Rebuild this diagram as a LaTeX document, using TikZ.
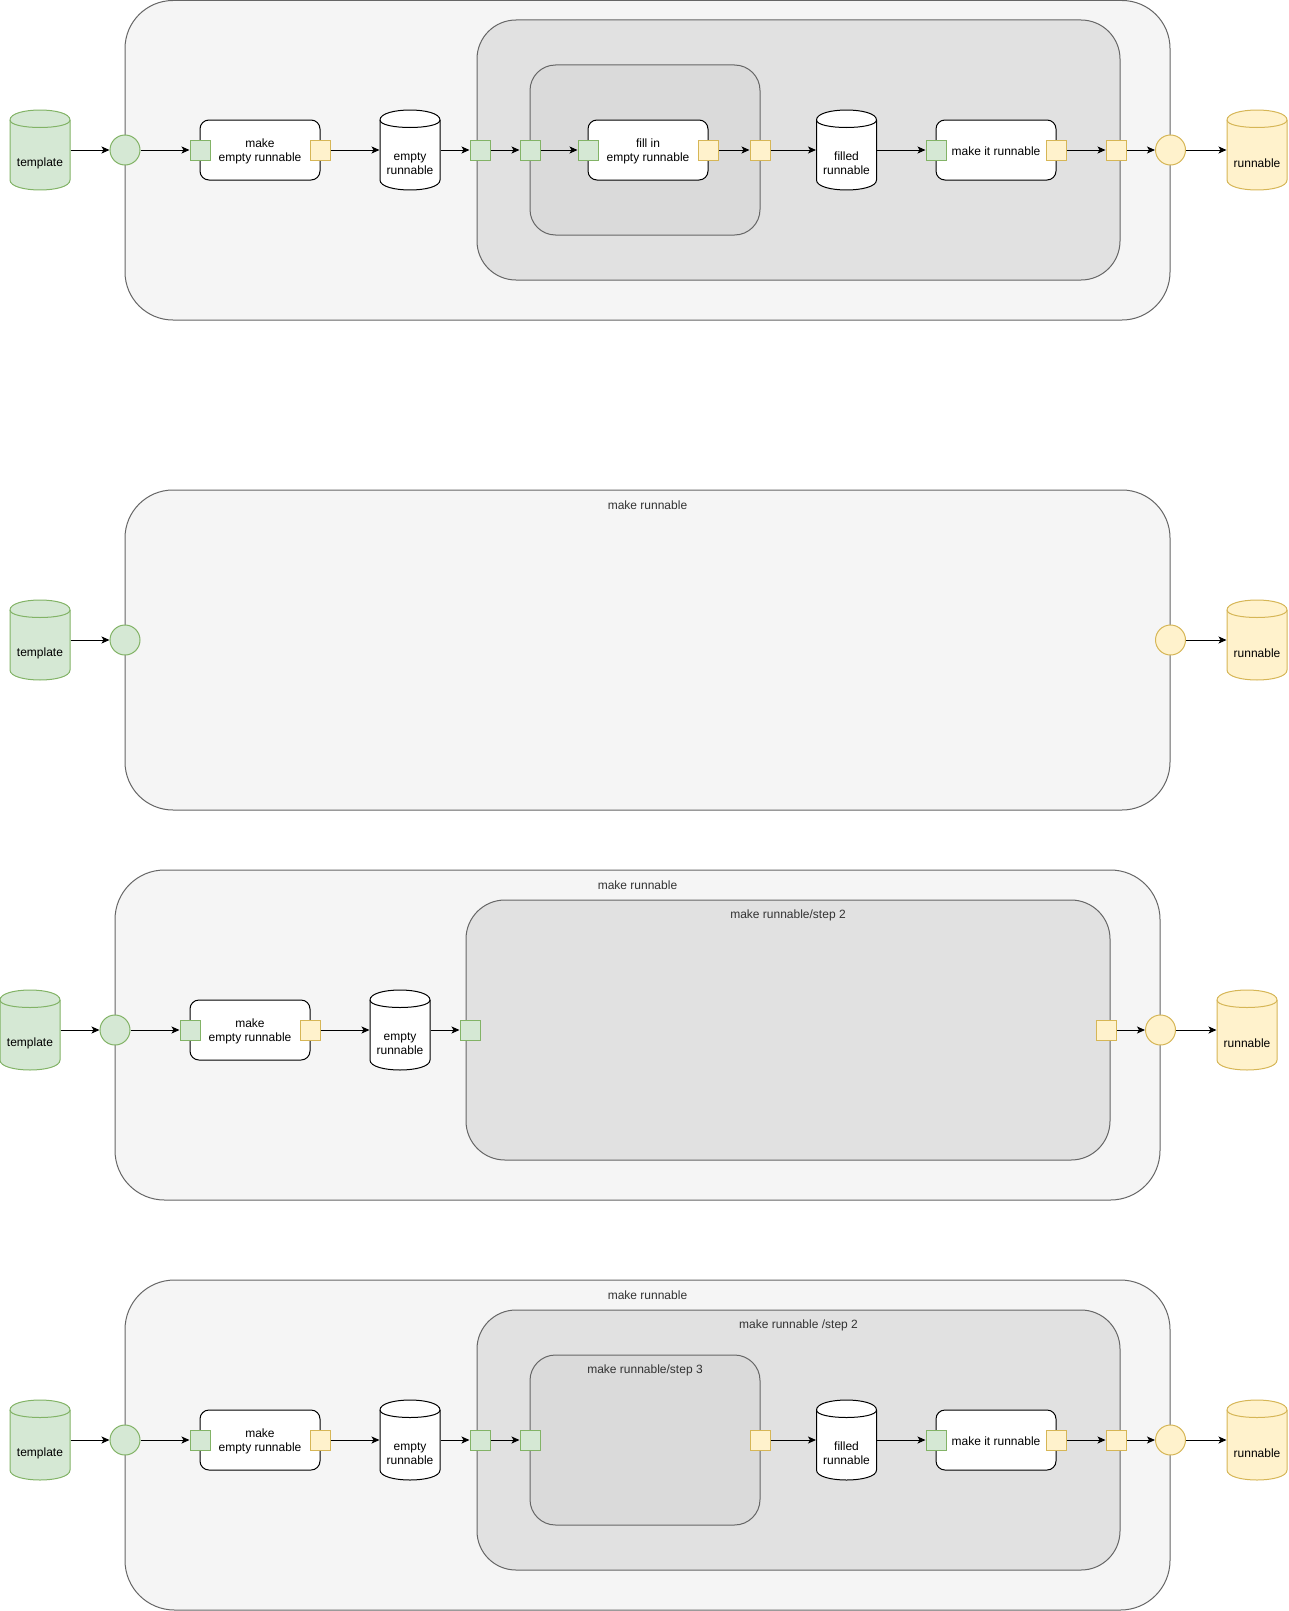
\documentclass[tikz,border=0pt]{standalone}
\usepackage{fontspec}
\setmainfont{Liberation Sans}
\usetikzlibrary{arrows.meta}
\definecolor{gfill}{HTML}{D5E8D4}
\definecolor{gline}{HTML}{82B366}
\definecolor{yfill}{HTML}{FFF2CC}
\definecolor{yline}{HTML}{D6B656}
\definecolor{conefill}{HTML}{F5F5F5}
\definecolor{cline}{HTML}{666666}
\definecolor{ctwofill}{HTML}{E1E1E1}
\definecolor{cthreefill}{HTML}{DADADA}
\definecolor{ttl}{HTML}{333333}
\newcommand{\mkcyl}[6]{%
  \node[cylhold] (#1) at (#2,#3) {};
  \filldraw[fill=#4, draw=#5] (#2-30,#3-30) .. controls (#2-30,#3-43.33) and (#2+30,#3-43.33) .. (#2+30,#3-30) -- (#2+30,#3+30) .. controls (#2+30,#3+43.33) and (#2-30,#3+43.33) .. (#2-30,#3+30) -- cycle;
  \draw[#5] (#2-30,#3-30) .. controls (#2-30,#3-20) and (#2+30,#3-20) .. (#2+30,#3-30);
  \node[cyltext] (#1-t) at (#2,#3+13.5) {#6};
}
\begin{document}
\begin{tikzpicture}[x=1pt,y=-1pt,line width=1pt,font=\fontsize{12}{14}\selectfont,
  contone/.style={draw=cline,fill=conefill,inner sep=0pt,rounded corners=48pt},
  conttwo/.style={draw=cline,fill=ctwofill,inner sep=0pt,rounded corners=39pt},
  contthree/.style={draw=cline,fill=cthreefill,inner sep=0pt,rounded corners=25.5pt},
  procbox/.style={draw=black,fill=white,rounded corners=9pt,minimum width=120pt,minimum height=60pt,inner sep=0pt},
  boxtxt/.style={align=center,inner sep=0pt,yshift=-1.5pt},
  gport/.style={draw=gline,fill=gfill,minimum size=20pt,inner sep=0pt},
  yport/.style={draw=yline,fill=yfill,minimum size=20pt,inner sep=0pt},
  gcirc/.style={circle,draw=gline,fill=gfill,minimum size=30pt,inner sep=0pt},
  ycirc/.style={circle,draw=yline,fill=yfill,minimum size=30pt,inner sep=0pt},
  cylhold/.style={minimum width=60pt,minimum height=80pt,inner sep=0pt},
  cyltext/.style={align=center,inner sep=0pt},
  ctitle/.style={text=ttl,inner sep=0pt},
  arr/.style={-{Stealth[length=8pt,width=7pt,inset=2pt]},line width=1pt}]
\useasboundingbox (0,0) rectangle (1288,1611);

% ---------------- Diagram 1 ----------------
\node[contone,minimum width=1045pt,minimum height=319.5pt] (A-o) at (647.5,160.25) {};
\node[conttwo,minimum width=643pt,minimum height=260pt] (A-c2) at (798.5,150) {};
\node[contthree,minimum width=230pt,minimum height=170pt] (A-c3) at (645,150) {};
\mkcyl{A-tpl}{40}{150}{gfill}{gline}{template}
\node[gcirc] (A-ci) at (125,150) {};
\node[procbox,label={[boxtxt]center:{make\\empty runnable}}] (A-b1) at (260,150) {};
\node[gport] (A-p1) at (200,150) {};
\node[yport] (A-q1) at (320,150) {};
\mkcyl{A-er}{410}{150}{white}{black}{empty\\runnable}
\node[gport] (A-p2) at (480,150) {};
\node[gport] (A-p3) at (530,150) {};
\node[procbox,label={[boxtxt]center:{fill in\\empty runnable}}] (A-b2) at (648,150) {};
\node[gport] (A-p4) at (588,150) {};
\node[yport] (A-q4) at (708,150) {};
\node[yport] (A-q3) at (760,150) {};
\mkcyl{A-fr}{846.5}{150}{white}{black}{filled\\runnable}
\node[procbox,label={[boxtxt]center:{make it runnable}}] (A-b3) at (996,150) {};
\node[gport] (A-p5) at (936,150) {};
\node[yport] (A-q5) at (1056,150) {};
\node[yport] (A-q2) at (1116,150) {};
\node[ycirc] (A-co) at (1170.5,150) {};
\mkcyl{A-run}{1257}{150}{yfill}{yline}{runnable}
\draw[arr] (A-tpl) -- (A-ci);
\draw[arr] (A-ci) -- (A-p1);
\draw[arr] (A-q1) -- (A-er);
\draw[arr] (A-er) -- (A-p2);
\draw[arr] (A-p2) -- (A-p3);
\draw[arr] (A-p3) -- (A-p4);
\draw[arr] (A-q4) -- (A-q3);
\draw[arr] (A-q3) -- (A-fr);
\draw[arr] (A-fr) -- (A-p5);
\draw[arr] (A-q5) -- (A-q2);
\draw[arr] (A-q2) -- (A-co);
\draw[arr] (A-co) -- (A-run);

% ---------------- Diagram 2 ----------------
\node[contone,minimum width=1045pt,minimum height=320pt] (B-o) at (647.5,650) {};
\node[ctitle] (B-ot) at (647.5,505.5) {make runnable};
\mkcyl{B-tpl}{40}{640}{gfill}{gline}{template}
\node[gcirc] (B-ci) at (125,640) {};
\node[ycirc] (B-co) at (1170.5,640) {};
\mkcyl{B-run}{1257}{640}{yfill}{yline}{runnable}
\draw[arr] (B-tpl) -- (B-ci);
\draw[arr] (B-co) -- (B-run);

% ---------------- Diagram 3 ----------------
\node[contone,rounded corners=49.5pt,minimum width=1045pt,minimum height=330pt] (C-o) at (637.5,1035) {};
\node[ctitle] (C-ot) at (637.5,885.5) {make runnable};
\node[conttwo,minimum width=644pt,minimum height=260pt] (C-c2) at (788,1030) {};
\node[ctitle] (C-c2t) at (788,915.5) {make runnable/step 2};
\mkcyl{C-tpl}{30}{1030}{gfill}{gline}{template}
\node[gcirc] (C-ci) at (115,1030) {};
\node[procbox,label={[boxtxt]center:{make\\empty runnable}}] (C-b1) at (250,1030) {};
\node[gport] (C-p1) at (190,1030) {};
\node[yport] (C-q1) at (310,1030) {};
\mkcyl{C-er}{400}{1030}{white}{black}{empty\\runnable}
\node[gport] (C-p2) at (470,1030) {};
\node[yport] (C-q2) at (1106,1030) {};
\node[ycirc] (C-co) at (1160.5,1030) {};
\mkcyl{C-run}{1247}{1030}{yfill}{yline}{runnable}
\draw[arr] (C-tpl) -- (C-ci);
\draw[arr] (C-ci) -- (C-p1);
\draw[arr] (C-q1) -- (C-er);
\draw[arr] (C-er) -- (C-p2);
\draw[arr] (C-q2) -- (C-co);
\draw[arr] (C-co) -- (C-run);

% ---------------- Diagram 4 ----------------
\node[contone,rounded corners=49.5pt,minimum width=1045pt,minimum height=330pt] (D-o) at (647.5,1445) {};
\node[ctitle] (D-ot) at (647.5,1295.5) {make runnable};
\node[conttwo,minimum width=643pt,minimum height=260pt] (D-c2) at (798.5,1440) {};
\node[ctitle] (D-c2t) at (798.5,1325.5) {make runnable /step 2};
\node[contthree,minimum width=230pt,minimum height=170pt] (D-c3) at (645,1440) {};
\node[ctitle] (D-c3t) at (645,1370.5) {make runnable/step 3};
\mkcyl{D-tpl}{40}{1440}{gfill}{gline}{template}
\node[gcirc] (D-ci) at (125,1440) {};
\node[procbox,label={[boxtxt]center:{make\\empty runnable}}] (D-b1) at (260,1440) {};
\node[gport] (D-p1) at (200,1440) {};
\node[yport] (D-q1) at (320,1440) {};
\mkcyl{D-er}{410}{1440}{white}{black}{empty\\runnable}
\node[gport] (D-p2) at (480,1440) {};
\node[gport] (D-p3) at (530,1440) {};
\node[yport] (D-q3) at (760,1440) {};
\mkcyl{D-fr}{846.5}{1440}{white}{black}{filled\\runnable}
\node[procbox,label={[boxtxt]center:{make it runnable}}] (D-b3) at (996,1440) {};
\node[gport] (D-p5) at (936,1440) {};
\node[yport] (D-q5) at (1056,1440) {};
\node[yport] (D-q2) at (1116,1440) {};
\node[ycirc] (D-co) at (1170.5,1440) {};
\mkcyl{D-run}{1257}{1440}{yfill}{yline}{runnable}
\draw[arr] (D-tpl) -- (D-ci);
\draw[arr] (D-ci) -- (D-p1);
\draw[arr] (D-q1) -- (D-er);
\draw[arr] (D-er) -- (D-p2);
\draw[arr] (D-p2) -- (D-p3);
\draw[arr] (D-q3) -- (D-fr);
\draw[arr] (D-fr) -- (D-p5);
\draw[arr] (D-q5) -- (D-q2);
\draw[arr] (D-q2) -- (D-co);
\draw[arr] (D-co) -- (D-run);
\end{tikzpicture}
\end{document}
